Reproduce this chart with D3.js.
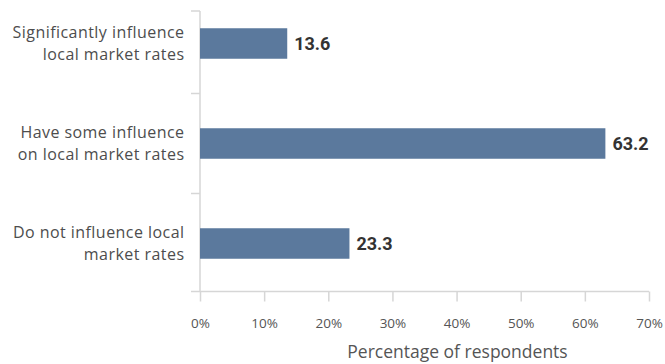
<!DOCTYPE html>
<html>
<head>
<meta charset="utf-8">
<script src="https://cdn.jsdelivr.net/npm/d3@7"></script>
<style>
  html, body { margin: 0; padding: 0; background: #fff; }
  svg { display: block; }
  text { font-variant-ligatures: none; }
</style>
</head>
<body>
<svg id="chart" width="665" height="364"></svg>
<script>
// Survey responses: share of respondents by perceived influence on local rates
const categories = [
  ["Significantly influence", "local market rates"],
  ["Have some influence", "on local market rates"],
  ["Do not influence local", "market rates"]
];
const values = [13.6, 63.2, 23.3];
const tickValues = [0, 10, 20, 30, 40, 50, 60, 70];
const xTitle = "Percentage of respondents";

const svg = d3.select("#chart");
const axisColor = "#d6d6d6";
const barColor = "#5b799d";
const lightFont = "'Open Sans', sans-serif";

const x = d3.scaleLinear().domain([0, 70]).range([200, 649]);
const y = d3.scaleBand().domain(d3.range(categories.length)).range([-6.5, 293.5]).paddingInner(0).paddingOuter(0);
const barH = 30.5;
const axisY = 291.5;
const axisTop = 11;

// x axis
const xAxis = d3.axisBottom(x)
  .tickValues(tickValues)
  .tickFormat(d => d + "%")
  .tickSize(10)
  .tickPadding(17);
const gx = svg.append("g").attr("transform", `translate(0,${axisY})`).call(xAxis);
gx.select(".domain").attr("stroke", axisColor).attr("stroke-width", 1.5)
  .attr("d", `M191,0H${x(70)}`);
gx.selectAll(".tick line").attr("stroke", axisColor).attr("stroke-width", 1.5);
gx.selectAll(".tick text")
  .attr("fill", "#555")
  .style("font-family", lightFont)
  .style("font-size", "13.5px");

// y axis line and category separators
svg.append("line")
  .attr("x1", x(0)).attr("x2", x(0))
  .attr("y1", axisTop).attr("y2", axisY)
  .attr("stroke", axisColor).attr("stroke-width", 1.5);
const sepYs = [axisTop].concat(d3.range(1, categories.length).map(i => y(i)));
svg.selectAll("line.sep").data(sepYs).join("line")
  .attr("class", "sep")
  .attr("x1", 191).attr("x2", x(0))
  .attr("y1", d => d).attr("y2", d => d)
  .attr("stroke", axisColor).attr("stroke-width", 1.5);

// bars
const rows = values.map((v, i) => ({ v, i, label: categories[i] }));
svg.selectAll("rect.bar").data(rows).join("rect")
  .attr("class", "bar")
  .attr("x", x(0))
  .attr("y", d => y(d.i) + y.bandwidth() / 2 - barH / 2)
  .attr("width", d => x(d.v) - x(0))
  .attr("height", barH)
  .attr("fill", barColor);

// value labels
svg.selectAll("text.val").data(rows).join("text")
  .attr("class", "val")
  .attr("x", d => x(d.v) + 7)
  .attr("y", d => y(d.i) + y.bandwidth() / 2)
  .attr("dy", "0.35em")
  .attr("fill", "#333")
  .style("font-family", "Roboto, sans-serif")
  .style("font-weight", 700)
  .style("font-size", "18px")
  .text(d => d.v.toFixed(1));

// category labels: one text per line so each line is laid out independently
const lines = rows.flatMap(d => d.label.map((t, k) => ({ t, k, i: d.i })));
svg.selectAll("text.cat").data(lines).join("text")
  .attr("class", "cat")
  .attr("text-anchor", "end")
  .attr("fill", "#4d4d4d")
  .style("font-family", lightFont)
  .style("font-size", "16px")
  .style("letter-spacing", "0.45px")
  .attr("x", 184.5)
  .attr("y", o => y(o.i) + y.bandwidth() / 2 + (o.k - 0.5) * 22)
  .attr("dy", "0.35em")
  .text(o => o.t);

// axis title
svg.append("text")
  .attr("x", 457.5)
  .attr("y", 352)
  .attr("dy", "0.35em")
  .attr("text-anchor", "middle")
  .attr("fill", "#555")
  .style("font-family", lightFont)
  .style("font-size", "17.5px")
  .text(xTitle);
</script>
</body>
</html>
